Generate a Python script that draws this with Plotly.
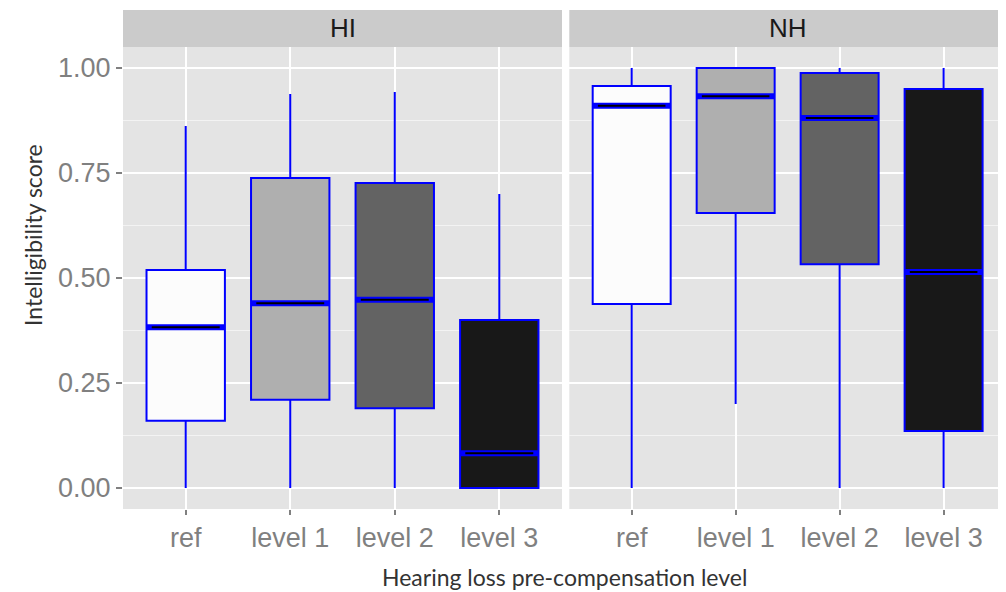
import plotly.graph_objects as go

categories = ["ref", "level 1", "level 2", "level 3"]
panels = ["HI", "NH"]
fills = ["#fcfcfc", "#afafaf", "#636363", "#181818"]

# HI panel stats
hi_low = [0.0, 0.0, 0.0, 0.0]
hi_q1 = [0.160, 0.210, 0.190, 0.0]
hi_med = [0.383, 0.440, 0.448, 0.083]
hi_q3 = [0.519, 0.738, 0.726, 0.400]
hi_high = [0.862, 0.938, 0.943, 0.700]

# NH panel stats
nh_low = [0.0, 0.200, 0.0, 0.0]
nh_q1 = [0.438, 0.655, 0.533, 0.136]
nh_med = [0.910, 0.933, 0.881, 0.514]
nh_q3 = [0.957, 1.0, 0.988, 0.950]
nh_high = [1.0, 1.0, 1.0, 1.0]

y_ticks = [0.0, 0.25, 0.5, 0.75, 1.0]

# page has an 8px body margin; figure coordinates = page coordinates - 8
OFF = 8
W, H = 1006 - OFF, 592 - OFF
L, R, T, B = 123 - OFF, 0, 10 - OFF, 592 - 509
plot_w = W - L - R
plot_h = H - T - B
panel_top = (509 - 47) / plot_h
hi_dom = [0, 439 / plot_w]
nh_dom = [446.3 / plot_w, 1]

fig = go.Figure()
box_w = 0.75
stats = [
    ("x", "y", hi_low, hi_q1, hi_med, hi_q3, hi_high),
    ("x2", "y2", nh_low, nh_q1, nh_med, nh_q3, nh_high),
]
for xa, ya, lo, q1, md, q3, hi in stats:
    for i, c in enumerate(categories):
        pos = i + 1
        fig.add_trace(go.Box(
            x=[pos], q1=[q1[i]], median=[md[i]], q3=[q3[i]],
            lowerfence=[lo[i]], upperfence=[hi[i]],
            width=box_w, whiskerwidth=0, boxpoints=False,
            fillcolor=fills[i], line=dict(color="#0000ff", width=2),
            xaxis=xa, yaxis=ya, showlegend=False, hoverinfo="skip",
        ))
        fig.add_trace(go.Scatter(
            x=[pos - box_w / 2, pos + box_w / 2], y=[md[i], md[i]],
            mode="lines", line=dict(color="#0000ff", width=6),
            xaxis=xa, yaxis=ya, showlegend=False, hoverinfo="skip",
        ))
        fig.add_trace(go.Scatter(
            x=[pos - box_w / 2 + 0.05, pos + box_w / 2 - 0.05], y=[md[i], md[i]],
            mode="lines", line=dict(color="#000000", width=2),
            xaxis=xa, yaxis=ya, showlegend=False, hoverinfo="skip",
        ))

tickfont = dict(family="Liberation Sans, Arial", size=27, color="#808080")
xcommon = dict(
    range=[0.4, 4.6], tickvals=[1, 2, 3, 4], ticktext=categories,
    showgrid=True, gridcolor="#ffffff", gridwidth=2, zeroline=False,
    ticks="outside", ticklen=5, tickwidth=1.5, tickcolor="#808080",
    tickfont=tickfont, showline=False, fixedrange=True,
)
ycommon = dict(
    range=[-0.05, 1.05], tickvals=y_ticks, tickformat=".2f",
    showgrid=True, gridcolor="#ffffff", gridwidth=2, zeroline=False,
    minor=dict(tickvals=[0.125, 0.375, 0.625, 0.875], showgrid=True,
               gridcolor="#f3f3f3", gridwidth=1, ticks=""),
    domain=[0, panel_top], showline=False, fixedrange=True,
)

fig.update_layout(
    width=W, height=H,
    margin=dict(l=L, r=R, t=T, b=B, autoexpand=False),
    paper_bgcolor="#ffffff",
    plot_bgcolor="#e4e4e4",
    xaxis=dict(domain=hi_dom, anchor="y", **xcommon),
    xaxis2=dict(domain=nh_dom, anchor="y2", **xcommon),
    yaxis=dict(anchor="x", ticks="outside", ticklen=6, tickwidth=1.5,
               tickcolor="#808080", tickfont=tickfont, **ycommon),
    yaxis2=dict(anchor="x2", showticklabels=False, ticks="", **ycommon),
)

# facet strips
for dom, name in [(hi_dom, panels[0]), (nh_dom, panels[1])]:
    fig.add_shape(type="rect", xref="paper", yref="paper",
                  x0=dom[0], x1=dom[1], y0=panel_top, y1=1,
                  fillcolor="#cbcbcb", line=dict(width=0), layer="below")
    fig.add_annotation(text=name, xref="paper", yref="paper",
                       x=(dom[0] + dom[1]) / 2, y=(panel_top + 1) / 2,
                       showarrow=False, xanchor="center", yanchor="middle",
                       font=dict(family="Liberation Sans, Arial", size=26, color="#1a1a1a"))

# axis titles (page coordinates converted to paper)
fig.add_annotation(text="Hearing loss pre-compensation level", xref="paper", yref="paper",
                   x=(564 - OFF - L) / plot_w, y=(H - (577 - OFF) - B) / plot_h, showarrow=False,
                   xanchor="center", yanchor="middle",
                   font=dict(family="Lato, Open Sans", size=23, color="#333333"))
fig.add_annotation(text="Intelligibility score", xref="paper", yref="paper",
                   x=(33 - OFF - L) / plot_w, y=(H - (235 - OFF) - B) / plot_h, showarrow=False,
                   xanchor="center", yanchor="middle", textangle=-90,
                   font=dict(family="Lato, Open Sans", size=23, color="#333333"))

fig.write_html("out.html")
